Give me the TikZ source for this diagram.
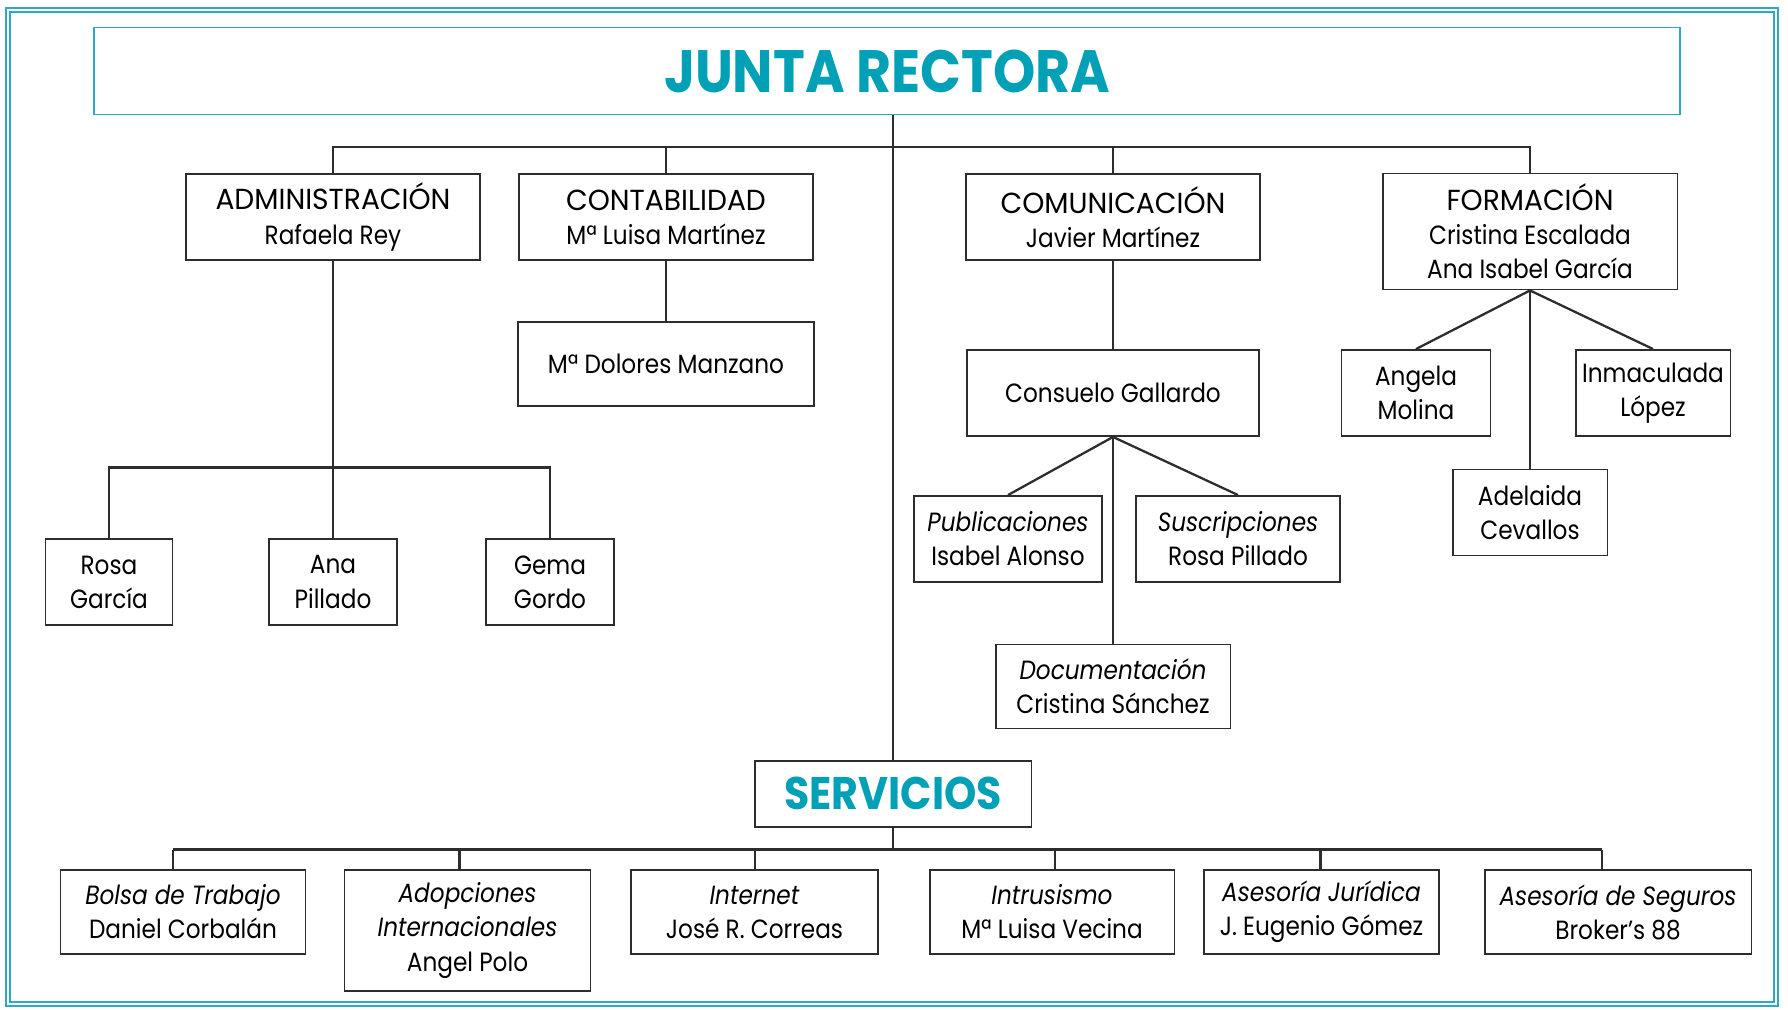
\documentclass[tikz,border=0pt]{standalone}
\usepackage{fontspec}
\setmainfont{Poppins}[FakeStretch=0.88]
\newfontfamily\capsfont{Poppins}[FakeStretch=0.97]
\newfontfamily\titlefont{Poppins}[FakeStretch=0.9]
\usepackage{xcolor}
\usepackage{tikz}
\definecolor{juntaTeal}{RGB}{0,160,182}
\definecolor{frameTeal}{RGB}{45,168,198}
\definecolor{boxGray}{RGB}{45,45,45}
\newcommand{\unithead}[1]{{\capsfont\fontsize{16.5}{19.4}\selectfont #1}}

\begin{document}
\begin{tikzpicture}[
  x=0.02cm, y=-0.02cm,
  unit/.style={
    rectangle, draw=boxGray, line width=1.1pt,
    inner sep=0pt, align=center,
    font=\fontsize{15}{19.4}\selectfont
  },
  head/.style={font=\titlefont\fontsize{34}{36}\selectfont\bfseries, text=juntaTeal},
  subhead/.style={font=\titlefont\fontsize{26}{30}\selectfont\bfseries, text=juntaTeal},
  link/.style={draw=boxGray, line width=1.3pt},
  frame/.style={draw=frameTeal, line width=0.9pt, double=white, double distance=1.3pt}
]
\useasboundingbox (0,0) rectangle (1788,1010);
\draw[frame] (8,10) rectangle (1776,1004);

\node[unit, draw=frameTeal, head, minimum width=31.72cm, minimum height=1.74cm] (junta) at (887,71) {JUNTA RECTORA};

\node[unit, minimum width=5.88cm, minimum height=1.72cm] (admin)  at (333,217) {\unithead{ADMINISTRACIÓN}\\Rafaela Rey};
\node[unit, minimum width=5.88cm, minimum height=1.72cm] (contab) at (666,217) {\unithead{CONTABILIDAD}\\Mª Luisa Martínez};
\node[unit, minimum width=5.88cm, minimum height=1.72cm] (comun)  at (1113,217) {\unithead{COMUNICACIÓN}\\Javier Martínez};
\node[unit, minimum width=5.9cm, minimum height=2.32cm] (form)   at (1530,231.5) {\unithead{FORMACIÓN}\\Cristina Escalada\\Ana Isabel García};

\node[unit, minimum width=2.54cm, minimum height=1.72cm] (rosa) at (109,582) {Rosa\\García};
\node[unit, minimum width=2.56cm, minimum height=1.72cm] (ana)  at (333,582) {Ana\\Pillado};
\node[unit, minimum width=2.56cm, minimum height=1.72cm] (gema) at (550,582) {Gema\\Gordo};

\node[unit, minimum width=5.92cm, minimum height=1.68cm] (dolores) at (666,364) {Mª Dolores Manzano};

\node[unit, minimum width=5.84cm, minimum height=1.72cm] (consuelo) at (1113,393) {Consuelo Gallardo};
\node[unit, minimum width=3.76cm, minimum height=1.72cm] (publi)    at (1008,539) {\textit{Publicaciones}\\Isabel Alonso};
\node[unit, minimum width=4.08cm, minimum height=1.72cm] (suscrip)  at (1238,539) {\textit{Suscripciones}\\Rosa Pillado};
\node[unit, minimum width=4.7cm, minimum height=1.68cm]  (docu)     at (1113,686.5) {\textit{Documentación}\\Cristina Sánchez};

\node[unit, minimum width=2.98cm, minimum height=1.72cm] (angela)   at (1416,393) {Angela\\Molina};
\node[unit, minimum width=3.1cm, minimum height=1.72cm]  (inma)     at (1653,393) {Inmaculada\\López};
\node[unit, minimum width=3.1cm, minimum height=1.72cm]  (adelaida) at (1530,512.5) {Adelaida\\Cevallos};

\node[unit, subhead, minimum width=5.54cm, minimum height=1.32cm] (servicios) at (893,793.6) {SERVICIOS};

\node[unit, minimum width=4.9cm, minimum height=1.68cm]  (bolsa)    at (183,912) {\textit{Bolsa de Trabajo}\\Daniel Corbalán};
\node[unit, minimum width=4.92cm, minimum height=2.42cm] (adop)     at (467.5,930.5) {\textit{Adopciones}\\\textit{Internacionales}\\Angel Polo};
\node[unit, minimum width=4.94cm, minimum height=1.68cm] (internet) at (754.5,912) {\textit{Internet}\\José R. Correas};
\node[unit, minimum width=4.9cm, minimum height=1.68cm]  (intrus)   at (1052,912) {\textit{Intrusismo}\\Mª Luisa Vecina};
\node[unit, minimum width=4.7cm, minimum height=1.68cm]  (juridica) at (1321.5,912) {\textit{Asesoría Jurídica}\\J. Eugenio Gómez};
\node[unit, minimum width=5.34cm, minimum height=1.68cm] (seguros)  at (1618,912) {\textit{Asesoría de Seguros}\\Broker’s 88};

\coordinate (topbus)   at (0,147);
\coordinate (adminbus) at (0,467.5);
\coordinate (servbus)  at (0,849.5);

\draw[link] (junta.south -| servicios.north) -- (servicios.north);
\draw[link] (admin.north) -- (admin.north |- topbus) -| (form.north);
\draw[link] (contab.north) -- (contab.north |- topbus);
\draw[link] (comun.north) -- (comun.north |- topbus);

\draw[link] (admin) -- (ana);
\draw[link] (rosa.north) |- (adminbus -| gema.north) -- (gema.north);
\draw[link] (contab) -- (dolores);

\draw[link] (comun) -- (consuelo);
\draw[link] (consuelo.south) -- (publi.north);
\draw[link] (consuelo.south) -- (suscrip.north);
\draw[link] (consuelo) -- (docu);

\draw[link] (form.south) -- (angela.north);
\draw[link] (form.south) -- (inma.north);
\draw[link] (form) -- (adelaida);

\draw[link] (servicios.south) -- (servicios.south |- servbus);
\draw[link] (173,849.5) -- (1602,849.5);
\foreach \n/\x in {bolsa/173, adop/459.5, internet/755, intrus/1055, juridica/1320.5, seguros/1602}
  \draw[link] (\x,849.5) -- (\x,849.5 |- \n.north);
\end{tikzpicture}
\end{document}
